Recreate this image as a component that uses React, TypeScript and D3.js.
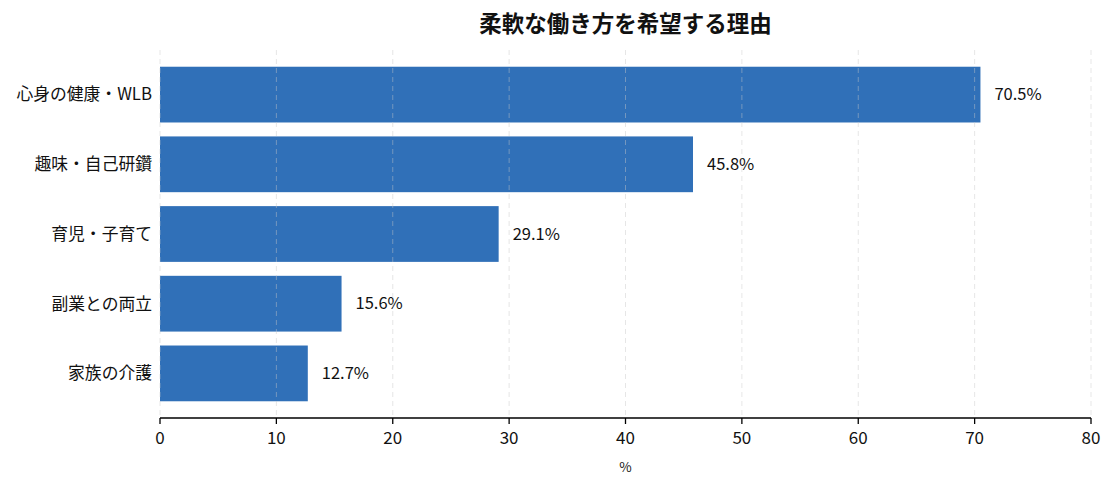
import { useMemo } from 'react';
import * as d3 from 'd3';

const categories = ['心身の健康・WLB', '趣味・自己研鑽', '育児・子育て', '副業との両立', '家族の介護'];
const values = [70.5, 45.8, 29.1, 15.6, 12.7];
const xTicks = [0, 10, 20, 30, 40, 50, 60, 70, 80];

const WIDTH = 1116;
const HEIGHT = 489;
const MARGIN = { top: 50, right: 25, bottom: 71, left: 160 };
const FONT = "'Noto Sans CJK JP', 'Noto Sans', sans-serif";

const App = () => {
  const boundsWidth = WIDTH - MARGIN.left - MARGIN.right;
  const boundsHeight = HEIGHT - MARGIN.top - MARGIN.bottom;

  const xScale = useMemo(() => d3.scaleLinear().domain([0, 80]).range([0, boundsWidth]), [boundsWidth]);
  const yScale = useMemo(
    () => d3.scaleBand<string>().domain(categories).range([0, boundsHeight]).paddingInner(0.2).paddingOuter(0.24),
    [boundsHeight]
  );

  return (
    <svg
      width={WIDTH}
      height={HEIGHT}
      style={{ position: 'absolute', left: 0, top: 0, display: 'block', fontFamily: FONT }}
    >
      <text x={MARGIN.left + boundsWidth / 2} y={32} textAnchor="middle" fontSize={22.5} fontWeight="bold" fill="#111">
        柔軟な働き方を希望する理由
      </text>
      <g transform={`translate(${MARGIN.left},${MARGIN.top})`}>
        {categories.map((c, i) => (
          <g key={c}>
            <rect
              x={xScale(0)}
              y={yScale(c)}
              width={xScale(values[i]) - xScale(0)}
              height={yScale.bandwidth()}
              fill="#3070b8"
            />
            <text
              x={xScale(values[i]) + 14}
              y={(yScale(c) ?? 0) + yScale.bandwidth() / 2}
              dy="0.35em"
              fontSize={16.5}
              fill="#111"
            >
              {values[i].toFixed(1)}%
            </text>
            <text
              x={-8}
              y={(yScale(c) ?? 0) + yScale.bandwidth() / 2}
              dy="0.35em"
              textAnchor="end"
              fontSize={16.8}
              fill="#111"
            >
              {c}
            </text>
          </g>
        ))}
        {xTicks.map((t) => (
          <line
            key={`g${t}`}
            x1={xScale(t)}
            x2={xScale(t)}
            y1={0}
            y2={boundsHeight}
            stroke="#c8c8c8"
            strokeOpacity={0.45}
            strokeDasharray="5,4"
            strokeWidth={1}
          />
        ))}
        <line x1={0} x2={boundsWidth} y1={boundsHeight} y2={boundsHeight} stroke="#000" strokeWidth={1.3} />
        {xTicks.map((t) => (
          <g key={`t${t}`} transform={`translate(${xScale(t)},${boundsHeight})`}>
            <line y1={0} y2={6} stroke="#000" strokeWidth={1.3} />
            <text y={26} textAnchor="middle" fontSize={17} fill="#111">
              {t}
            </text>
          </g>
        ))}
        <text x={boundsWidth / 2} y={boundsHeight + 54} textAnchor="middle" fontSize={13.5} fill="#222">
          %
        </text>
      </g>
    </svg>
  );
};

export default App;
